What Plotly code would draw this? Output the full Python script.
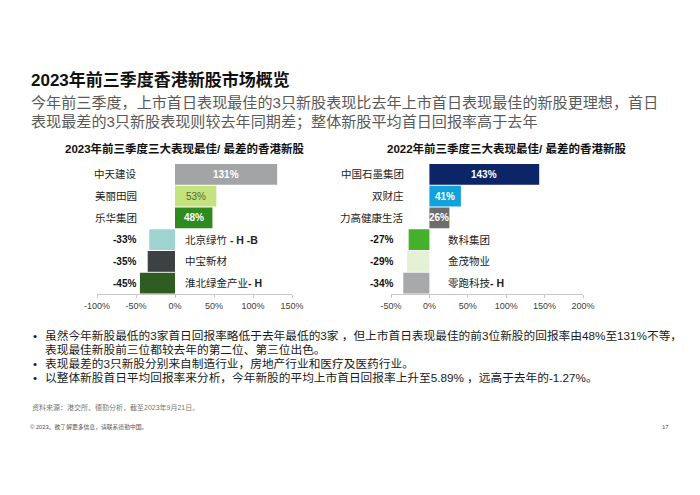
import re
import plotly.graph_objects as go

# 2023: best 3 and worst 3 first-day returns (%)
names_2023 = ["中天建设", "美丽田园", "乐华集团", "北京绿竹 - H -B", "中宝新材", "淮北绿金产业- H"]
values_2023 = [131, 53, 48, -33, -35, -45]
colors_2023 = ["#a3a4a6", "#c4e27e", "#2f8a1f", "#9fd3d0", "#3e4144", "#2e5c22"]

# 2022: best 3 and worst 3 first-day returns (%)
names_2022 = ["中国石墨集团", "双财庄", "力高健康生活", "数科集团", "金茂物业", "零跑科技- H"]
values_2022 = [143, 41, 26, -27, -29, -34]
colors_2022 = ["#0c2567", "#11a2de", "#6d6d6d", "#45b02c", "#e5f1d4", "#a8a9ab"]

ticks_2023 = [-100, -50, 0, 50, 100, 150]
ticks_2022 = [-50, 0, 50, 100, 150, 200]

title = "2023年前三季度香港新股市场概览"
subtitle = [
    "今年前三季度，上市首日表现最佳的3只新股表现比去年上市首日表现最佳的新股更理想，首日",
    "表现最差的3只新股表现则较去年同期差；整体新股平均首日回报率高于去年",
]
chart_titles = ["2023年前三季度三大表现最佳/ 最差的香港新股", "2022年前三季度三大表现最佳/ 最差的香港新股"]
bullets = [
    ("•", "虽然今年新股最低的3家首日回报率略低于去年最低的3家 ，但上市首日表现最佳的前3位新股的回报率由48%至131%不等，"),
    ("", "表现最佳新股前三位都较去年的第二位、第三位出色。"),
    ("•", "表现最差的3只新股分别来自制造行业，房地产行业和医疗及医药行业。"),
    ("•", "以整体新股首日平均回报率来分析，今年新股的平均上市首日回报率上升至5.89% ，远高于去年的-1.27%。"),
]
source = "资料来源：港交所、德勤分析，截至2023年9月21日。"
copyright_note = "© 2023。欲了解更多信息，请联系德勤中国。"
page_no = "17"

FONT = "Liberation Sans, Noto Sans CJK SC, sans-serif"
OFF = 8  # page body margin
W, H = 700 - 2 * OFF, 495 - 2 * OFF


def px(x):
    # screen pixel -> paper fraction
    return (x - OFF) / W


def py(y):
    return 1 - (y - OFF) / H


def bold_suffix(name):
    # latin share-class suffix is bold in the original
    return re.sub(r"(\s?-.*)$", r"<b>\1</b>", name)


fig = go.Figure()
annotations = []

panels = [
    dict(names=names_2023, values=values_2023, colors=colors_2023, ticks=ticks_2023,
         x0=97, x1=292, rng=[-100, 150], ax="x", ay="y",
         name_x=-46, neg_val_x=-47, neg_name_x=10),
    dict(names=names_2022, values=values_2022, colors=colors_2022, ticks=ticks_2022,
         x0=391, x1=583, rng=[-50, 200], ax="x2", ay="y2",
         name_x=-31, neg_val_x=-45, neg_name_x=22),
]

for i, p in enumerate(panels):
    fig.add_trace(go.Bar(
        x=p["values"], y=p["names"], orientation="h",
        marker=dict(color=p["colors"], line_width=0),
        xaxis=p["ax"], yaxis=p["ay"], hoverinfo="skip", showlegend=False,
    ))
    sfx = "" if i == 0 else "2"
    fig.update_layout(**{
        "xaxis" + sfx: dict(
            domain=[px(p["x0"]), px(p["x1"])], range=p["rng"], anchor="y" + sfx,
            tickvals=p["ticks"], ticktext=[f"{t}%" for t in p["ticks"]],
            showgrid=False, zeroline=False, showline=True, linecolor="#c8c8c8",
            ticks="outside", ticklen=3, tickcolor="#c8c8c8",
            tickfont=dict(size=9, color="#404040"), automargin=False,
        ),
        "yaxis" + sfx: dict(
            domain=[py(294), py(163.5)], type="category", autorange="reversed",
            visible=False, anchor="x" + sfx, automargin=False,
        ),
    })
    for n, v, c in zip(p["names"], p["values"], p["colors"]):
        if v > 0:
            annotations.append(dict(
                x=p["name_x"], y=n, xref=p["ax"], yref=p["ay"], text=n,
                xanchor="right", showarrow=False, font=dict(size=10.5, color="#222")))
            light = c in ("#c4e27e",)
            annotations.append(dict(
                x=v / 2, y=n, xref=p["ax"], yref=p["ay"],
                text=f"{v}%" if light else f"<b>{v}%</b>",
                showarrow=False, font=dict(size=10, color="#55683a" if light else "white")))
        else:
            annotations.append(dict(
                x=p["neg_val_x"], y=n, xref=p["ax"], yref=p["ay"], text=f"<b>{v}%</b>",
                xanchor="right", showarrow=False, font=dict(size=10, color="#111")))
            annotations.append(dict(
                x=p["neg_name_x"], y=n, xref=p["ax"], yref=p["ay"], text=bold_suffix(n),
                xanchor="left", showarrow=False, font=dict(size=10.5, color="#222")))

# chart titles
for t, x in zip(chart_titles, [63, 385]):
    annotations.append(dict(x=px(x), y=py(148), xref="paper", yref="paper", text=f"<b>{t}</b>",
                            xanchor="left", yanchor="middle", showarrow=False,
                            font=dict(size=11.5, color="#111")))

# slide title and subtitle
annotations.append(dict(x=px(29), y=py(80), xref="paper", yref="paper", text=f"<b>{title}</b>",
                        xanchor="left", yanchor="middle", showarrow=False,
                        font=dict(size=17, color="#111")))
for line, y in zip(subtitle, [102, 122]):
    annotations.append(dict(x=px(29), y=py(y), xref="paper", yref="paper", text=line,
                            xanchor="left", yanchor="middle", showarrow=False,
                            font=dict(size=15.1, color="#5a5a5a")))

# bullets
for (mark, line), y in zip(bullets, [335, 349, 363, 377]):
    if mark:
        annotations.append(dict(x=px(31), y=py(y), xref="paper", yref="paper", text=mark,
                                xanchor="left", yanchor="middle", showarrow=False,
                                font=dict(size=11.7, color="#1a1a1a")))
    annotations.append(dict(x=px(43), y=py(y), xref="paper", yref="paper", text=line,
                            xanchor="left", yanchor="middle", showarrow=False,
                            font=dict(size=11.7, color="#1a1a1a")))

# footer
annotations.append(dict(x=px(30), y=py(407), xref="paper", yref="paper", text=source,
                        xanchor="left", yanchor="middle", showarrow=False,
                        font=dict(size=7, color="#777")))
annotations.append(dict(x=px(28), y=py(427), xref="paper", yref="paper", text=copyright_note,
                        xanchor="left", yanchor="middle", showarrow=False,
                        font=dict(size=5.8, color="#555")))
annotations.append(dict(x=px(671), y=py(427), xref="paper", yref="paper", text=page_no,
                        xanchor="right", yanchor="middle", showarrow=False,
                        font=dict(size=6, color="#555")))

fig.update_layout(
    width=W, height=H,
    margin=dict(l=0, r=0, t=0, b=0, pad=0),
    paper_bgcolor="white", plot_bgcolor="white",
    font=dict(family=FONT),
    bargap=0.04,
    annotations=annotations,
)

fig.write_html("out.html")
